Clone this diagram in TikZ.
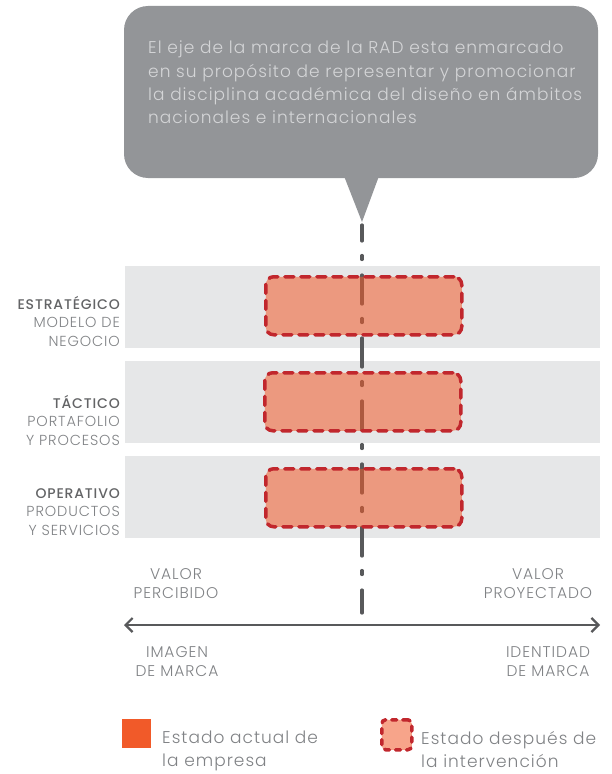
\documentclass[tikz,border=0pt]{standalone}
\usepackage{fontspec}
\setmainfont{Poppins Light}
\newfontfamily\headfont{Poppins Medium}[LetterSpace=6]
\usetikzlibrary{arrows.meta}
\definecolor{bubblegray}{HTML}{939598}
\definecolor{bubbletext}{HTML}{D4D5D7}
\definecolor{bandgray}{HTML}{E6E7E8}
\definecolor{linegray}{HTML}{58595B}
\definecolor{txtgray}{HTML}{808285}
\definecolor{headgray}{HTML}{636466}
\definecolor{actorange}{HTML}{F15A29}
\definecolor{dashred}{HTML}{C1272D}
\tikzset{
  band/.style={fill=bandgray, draw=none, minimum width=475bp, minimum height=82bp, inner sep=0pt, anchor=north west},
  afterbox/.style={fill=actorange, fill opacity=0.55, draw=dashred, draw opacity=1, line width=3.5bp,
     dash pattern=on 9bp off 7bp, line cap=round, rounded corners=8bp, minimum width=196bp, minimum height=58bp, inner sep=0pt, anchor=north west},
  lvl/.style={align=right, anchor=north east, inner sep=0pt, font=\fontsize{14.5bp}{18.5bp}\selectfont\addfontfeature{LetterSpace=6}, text=txtgray},
  axl/.style={align=center, inner sep=0pt, font=\fontsize{15.5bp}{19bp}\selectfont\addfontfeature{LetterSpace=6}, text=txtgray},
  legtxt/.style={align=left, anchor=north west, inner sep=0pt, font=\fontsize{17bp}{23bp}\selectfont\addfontfeature{LetterSpace=6}, text=txtgray},
}
\newcommand{\lvlhead}[1]{{\headfont\fontsize{14bp}{18.5bp}\selectfont\color{headgray}#1}}
\begin{document}
\begin{tikzpicture}[x=1bp,y=-1bp]
\useasboundingbox (0,0) rectangle (612,774);
% speech bubble
\fill[bubblegray, rounded corners=24bp] (124,6) rectangle (598,178);
\fill[bubblegray] (344,176) -- (362,222) -- (379,176) -- cycle;
\coordinate (tip) at (362,225);
\node[anchor=north west, align=left, inner sep=0pt, text=bubbletext,
  font=\fontsize{17bp}{23.3bp}\selectfont\addfontfeature{LetterSpace=6}] (bubble) at (148,41)
  {El eje de la marca de la RAD esta enmarcado\\en su propósito de representar y promocionar\\la disciplina académica del diseño en ámbitos\\nacionales e internacionales};
% bands
\node[band] (b1) at (125,266) {};
\node[band] (b2) at (125,361) {};
\node[band] (b3) at (125,456) {};
% vertical axis
\coordinate (vend) at (362,613);
\draw[linegray, line width=3.2bp, line cap=round, dash pattern=on 29bp off 14.5bp on 4bp off 15.5bp, dash phase=13bp] (tip) -- (vend);
% boxes
\node[afterbox] (x1) at (264,275) {};
\node[afterbox] (x2) at (263,371) {};
\node[afterbox] (x3) at (264,467) {};
% level labels
\node[lvl] (l1) at (120,296) {\lvlhead{ESTRATÉGICO}\\MODELO DE\\NEGOCIO};
\node[lvl] (l2) at (120,395) {\lvlhead{TÁCTICO}\\PORTAFOLIO\\Y PROCESOS};
\node[lvl] (l3) at (120,488) {\lvlhead{OPERATIVO}\\PRODUCTOS\\Y SERVICIOS};
% horizontal axis
\coordinate (aL) at (124,625);
\coordinate (aR) at (600,625);
\draw[linegray, line width=2.2bp, {Straight Barb[length=7bp,width=14bp,line width=2.2bp]}-{Straight Barb[length=7bp,width=14bp,line width=2.2bp]}] (aL) -- (aR);
\node[axl] (vp) at (176,584) {VALOR\\PERCIBIDO};
\node[axl] (vy) at (538,584) {VALOR\\PROYECTADO};
\node[axl] (im) at (177,662) {IMAGEN\\DE MARCA};
\node[axl] (id) at (548,662) {IDENTIDAD\\DE MARCA};
% legend
\node[fill=actorange, minimum size=29bp, inner sep=0pt, anchor=north west] (lg1) at (122,719) {};
\node[legtxt] (lt1) at (162,731) {Estado actual de\\la empresa};
\node[fill=actorange, fill opacity=0.55, draw=dashred, draw opacity=1, line width=3.5bp, dash pattern=on 5bp off 6bp, line cap=round, rounded corners=4bp, minimum size=30bp, inner sep=0pt, anchor=north west] (lg2) at (380,718) {};
\node[legtxt] (lt2) at (421,731) {Estado después de\\la intervención};
\end{tikzpicture}
\end{document}
